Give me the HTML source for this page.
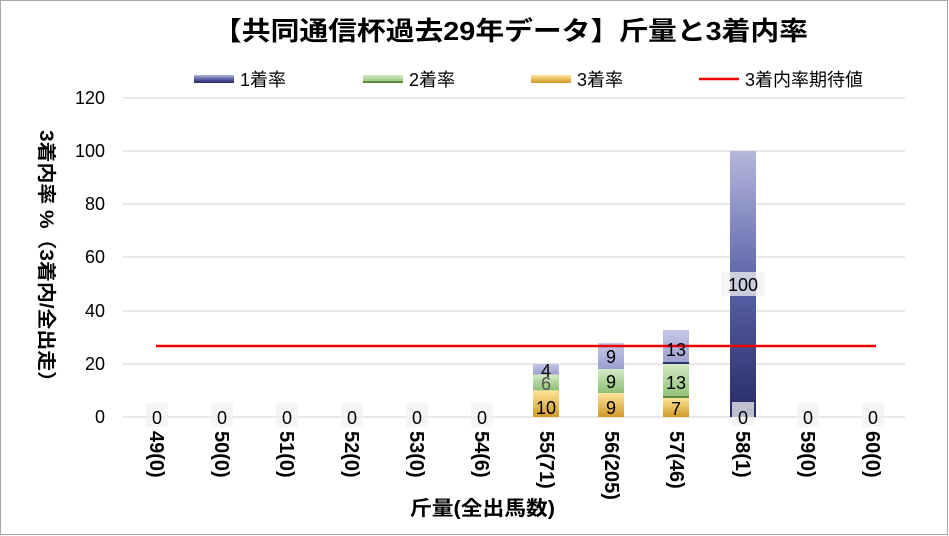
<!DOCTYPE html>
<html><head><meta charset="utf-8"><style>
body{margin:0;background:#fff}
svg{display:block;font-family:"Liberation Sans","Noto Sans CJK JP",sans-serif}
</style></head><body>
<svg width="949" height="536" viewBox="0 0 949 536">
<defs>
<linearGradient id="g1" x1="0" y1="0" x2="0" y2="1"><stop offset="0" stop-color="#b4b8dc"/><stop offset="0.5" stop-color="#5a62a8"/><stop offset="1" stop-color="#262b66"/></linearGradient>
<linearGradient id="g1s" x1="0" y1="0" x2="0" y2="1"><stop offset="0" stop-color="#c4c7e6"/><stop offset="1" stop-color="#9aa0d0"/></linearGradient>
<linearGradient id="g2" x1="0" y1="0" x2="0" y2="1"><stop offset="0" stop-color="#d2eac4"/><stop offset="1" stop-color="#8fbf74"/></linearGradient>
<linearGradient id="g3" x1="0" y1="0" x2="0" y2="1"><stop offset="0" stop-color="#ffe49a"/><stop offset="1" stop-color="#d09a28"/></linearGradient>
</defs>
<rect x="0.5" y="0.5" width="947" height="534" fill="#fff" stroke="#a6a6a6"/>
<text x="213" y="40" font-size="26" font-weight="bold" textLength="595" lengthAdjust="spacingAndGlyphs">【共同通信杯過去29年データ】斤量と3着内率</text>
<rect x="194" y="75" width="40" height="8" fill="url(#g1)"/><text x="240" y="86" font-size="18">1着率</text>
<rect x="363" y="75" width="40" height="8" fill="url(#g2)"/><rect x="363" y="81" width="40" height="2" fill="#5a8a3a"/><text x="409" y="86" font-size="18">2着率</text>
<rect x="531" y="75" width="40" height="8" fill="url(#g3)"/><text x="577" y="86" font-size="18">3着率</text>
<line x1="699" y1="79" x2="739" y2="79" stroke="#e00" stroke-width="2.5"/><text x="745" y="86" font-size="18">3着内率期待値</text>
<g stroke="#d9d9d9" stroke-width="1.3">
<line x1="123" y1="98" x2="905" y2="98"/><line x1="123" y1="151" x2="905" y2="151"/><line x1="123" y1="204" x2="905" y2="204"/><line x1="123" y1="257" x2="905" y2="257"/><line x1="123" y1="311" x2="905" y2="311"/><line x1="123" y1="364" x2="905" y2="364"/><line x1="123" y1="417" x2="905" y2="417"/>
</g>
<g font-size="18" text-anchor="end">
<text x="105" y="104">120</text><text x="105" y="157">100</text><text x="105" y="210">80</text><text x="105" y="263">60</text><text x="105" y="317">40</text><text x="105" y="370">20</text><text x="105" y="423">0</text>
</g>
<text transform="translate(40,130) rotate(90)" font-size="19" font-weight="bold" textLength="262" lengthAdjust="spacingAndGlyphs">3着内率 %（3着内/全出走）</text>
<rect x="533" y="390.4" width="26" height="26.6" fill="url(#g3)"/>
<rect x="533" y="374.5" width="26" height="15.9" fill="url(#g2)"/>
<rect x="533" y="363.8" width="26" height="10.7" fill="url(#g1s)"/>
<rect x="598" y="393" width="26" height="24" fill="url(#g3)"/>
<rect x="598" y="369" width="26" height="24" fill="url(#g2)"/>
<rect x="598" y="343" width="26" height="26" fill="url(#g1s)"/>
<rect x="663" y="398" width="26" height="19" fill="url(#g3)"/>
<rect x="663" y="364" width="26" height="34" fill="url(#g2)"/><rect x="663" y="396" width="26" height="2" fill="#5a8a3a"/>
<rect x="663" y="330" width="26" height="34" fill="url(#g1s)"/><rect x="663" y="362" width="26" height="2" fill="#2b3070"/>
<rect x="730" y="151" width="26" height="266" fill="url(#g1)"/>
<line x1="156" y1="346" x2="876" y2="346" stroke="#e00" stroke-width="2.5"/>
<g font-size="18" text-anchor="middle">
<g fill="#f2f2f2" fill-opacity="0.75">
<rect x="146" y="403" width="22" height="24"/><rect x="211" y="403" width="22" height="24"/><rect x="276" y="403" width="22" height="24"/><rect x="341" y="403" width="22" height="24"/><rect x="406" y="403" width="22" height="24"/><rect x="471" y="403" width="22" height="24"/><rect x="797" y="403" width="22" height="24"/><rect x="862" y="403" width="22" height="24"/><rect x="732" y="402" width="22" height="24"/>
<rect x="721" y="272" width="44" height="24"/>
</g>
<text x="157" y="424">0</text><text x="222" y="424">0</text><text x="287" y="424">0</text><text x="352" y="424">0</text><text x="417" y="424">0</text><text x="482" y="424">0</text><text x="808" y="424">0</text><text x="873" y="424">0</text><text x="743" y="424">0</text>
<text x="743" y="291">100</text>
<text x="546" y="414">10</text><text x="546" y="390" fill="#555">6</text><text x="546" y="377">4</text>
<text x="611" y="414">9</text><text x="611" y="388">9</text><text x="611" y="363">9</text>
<text x="676" y="415">7</text><text x="676" y="389">13</text><text x="676" y="356">13</text>
</g>
<g font-size="20" font-weight="bold">
<text transform="translate(150,431) rotate(90)">49(0)</text>
<text transform="translate(215,431) rotate(90)">50(0)</text>
<text transform="translate(280,431) rotate(90)">51(0)</text>
<text transform="translate(345,431) rotate(90)">52(0)</text>
<text transform="translate(410,431) rotate(90)">53(0)</text>
<text transform="translate(475,431) rotate(90)">54(6)</text>
<text transform="translate(540,431) rotate(90)">55(71)</text>
<text transform="translate(605,431) rotate(90)">56(205)</text>
<text transform="translate(670,431) rotate(90)">57(46)</text>
<text transform="translate(736,431) rotate(90)">58(1)</text>
<text transform="translate(801,431) rotate(90)">59(0)</text>
<text transform="translate(866,431) rotate(90)">60(0)</text>
</g>
<text x="410" y="515" font-size="20" font-weight="bold" textLength="145" lengthAdjust="spacingAndGlyphs">斤量(全出馬数)</text>
</svg>
</body></html>
